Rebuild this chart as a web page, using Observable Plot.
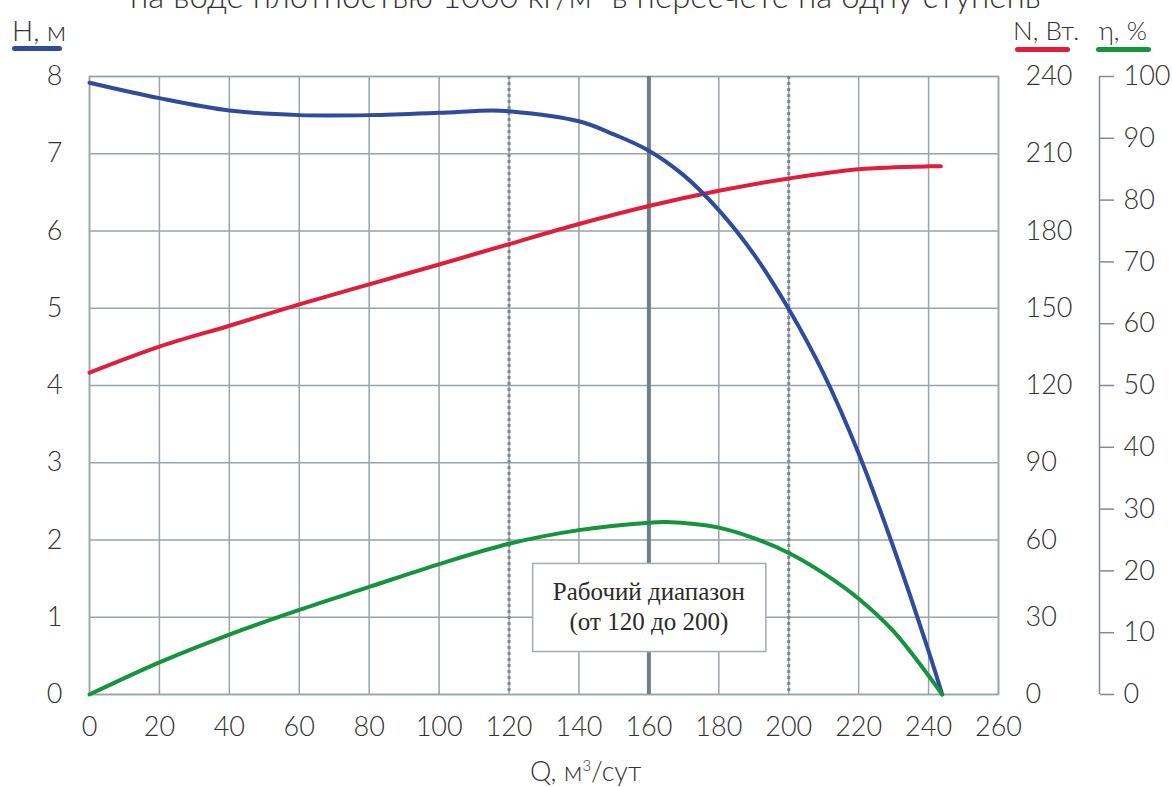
<!DOCTYPE html>
<html><head><meta charset="utf-8">
<script src="https://cdn.jsdelivr.net/npm/d3@7"></script>
<script src="https://cdn.jsdelivr.net/npm/@observablehq/plot@0.6"></script>
<style>
body{margin:0;background:#fff;}
#wrap{position:relative;width:1172px;height:787px;overflow:hidden;font-family:Lato,"Open Sans",sans-serif;}
#chart{position:absolute;left:0;top:0;}
.t{position:absolute;color:#333;font-weight:300;white-space:nowrap;line-height:1;}
.bar{position:absolute;height:5px;border-radius:3px;}
sup{font-size:55%;}
</style></head><body>
<div id="wrap">
  <div id="chart"></div>
  <div class="t" id="title" style="left:130px;top:-21px;font-size:33px;"></div>
  <div class="t" id="lh" style="left:12px;top:16px;font-size:28px;"></div>
  <div class="bar" style="left:12px;top:46px;width:50px;background:#2f4b9c"></div>
  <div class="t" id="ln" style="left:1013px;top:17px;font-size:26px;"></div>
  <div class="bar" style="left:1015px;top:47px;width:55px;background:#e01e3c"></div>
  <div class="t" id="le" style="left:1099px;top:17px;font-size:26px;"></div>
  <div class="bar" style="left:1096px;top:47px;width:55px;background:#14943c"></div>
  <div class="t" id="lq" style="left:530px;top:757px;font-size:27px;"></div>
</div>
<script>
// ---- data ----
const titleText = "на воде плотностью 1000 кг/м³ в пересчете на одну ступень";
const labelH = "H, м";
const labelN = "N, Вт.";
const labelEta = "η, %";
const labelQ = "Q, м<sup>3</sup>/сут";

const qTicks = [0,20,40,60,80,100,120,140,160,180,200,220,240,260];
const hTicks = [0,1,2,3,4,5,6,7,8];
const nTicks = [0,30,60,90,120,150,180,210,240];
const etaTicks = [0,10,20,30,40,50,60,70,80,90,100];

// Head H (m)
const hQ = [0,20,40,60,80,100,115,120,140,150,160,170,180,190,200,210,220,230,240,243.9];
const hV = [7.92,7.72,7.56,7.50,7.50,7.53,7.56,7.55,7.42,7.25,7.04,6.72,6.27,5.70,4.99,4.15,3.12,1.90,0.56,0];
// Power N (W)
const nQ = [0,20,40,60,80,100,120,140,160,180,200,220,240,243.5];
const nV = [125.0,135.1,143.2,151.5,159.3,167.0,174.9,182.7,189.7,195.6,200.4,204.0,205.1,205.1];
// Efficiency eta (%)
const eQ = [0,20,40,60,80,100,120,140,160,165,180,190,200,210,220,230,243.9];
const eV = [0,5.2,9.7,13.7,17.4,21.1,24.4,26.6,27.8,27.9,27.0,25.3,22.9,19.6,15.5,10.2,0];

// working range
const rangeDotted = [120,200];
const rangeCenter = [160];
const note = [{x1:126.9, x2:193.6, y1:0.55, y2:1.69, xc:160, l1:1.33, l2:0.94,
               t1:"Рабочий диапазон", t2:"(от 120 до 200)"}];

const nPerH = 30, ePerH = 12.5;

const hData = hQ.map((q,i)=>({q, v:hV[i]}));
const nData = nQ.map((q,i)=>({q, v:nV[i]/nPerH}));
const eData = eQ.map((q,i)=>({q, v:eV[i]/ePerH}));

const grid = "#98a3ab";
const plot = Plot.plot({
  width:1172, height:787,
  marginLeft:89, marginRight:174, marginTop:76, marginBottom:93,
  x:{domain:[0,260]},
  y:{domain:[0,8]},
  style:{fontFamily:"Lato, 'Open Sans', sans-serif", fontSize:"27px", fontWeight:300, color:"#333", background:"#fff"},
  marks:[
    Plot.gridX(qTicks, {stroke:grid, strokeOpacity:1, strokeWidth:1.5}),
    Plot.gridY(hTicks, {stroke:grid, strokeOpacity:1, strokeWidth:1.5}),
    Plot.frame({stroke:grid, strokeWidth:1.5}),
    Plot.ruleX(rangeDotted, {stroke:"#7b8892", strokeWidth:3, strokeDasharray:"3,3"}),
    Plot.ruleX(rangeCenter, {stroke:"#6f7f88", strokeWidth:4}),
    Plot.axisX(qTicks, {tickSize:0, tickPadding:22, label:null, tickFormat:d=>String(d)}),
    Plot.axisY(hTicks, {anchor:"left", tickSize:0, tickPadding:27, label:null, tickFormat:d=>String(d)}),
    Plot.axisY(nTicks.map(n=>n/nPerH), {anchor:"right", tickSize:0, tickPadding:27, label:null,
      tickFormat:d=>String(Math.round(d*nPerH))}),
    Plot.ruleX([260], {y1:0, y2:8, dx:101, stroke:"#7d8b95", strokeWidth:1.5}),
    Plot.axisY(etaTicks.map(e=>e/ePerH), {anchor:"right", tickSize:14, tickPadding:10, dx:101, label:null,
      stroke:"#7d8b95", strokeWidth:1.5, tickFormat:d=>String(Math.round(d*ePerH))}),
    Plot.line(nData, {x:"q", y:"v", curve:"catmull-rom", stroke:"#e01e3c", strokeWidth:4}),
    Plot.line(hData, {x:"q", y:"v", curve:"catmull-rom", stroke:"#2f4b9c", strokeWidth:4}),
    Plot.line(eData, {x:"q", y:"v", curve:"catmull-rom", stroke:"#14943c", strokeWidth:4}),
    Plot.rect(note, {x1:"x1", x2:"x2", y1:"y1", y2:"y2", fill:"#fff", stroke:"#a3abb1", strokeWidth:1.5}),
    Plot.text(note, {x:"xc", y:"l1", text:"t1", fontFamily:"'Liberation Serif', 'Times New Roman', serif", fontSize:25, fontWeight:400, fill:"#2a2a2a"}),
    Plot.text(note, {x:"xc", y:"l2", text:"t2", fontFamily:"'Liberation Serif', 'Times New Roman', serif", fontSize:25, fontWeight:400, fill:"#2a2a2a"})
  ]
});
document.getElementById("chart").appendChild(plot);
document.getElementById("title").textContent = titleText;
document.getElementById("lh").textContent = labelH;
document.getElementById("ln").textContent = labelN;
document.getElementById("le").textContent = labelEta;
document.getElementById("lq").innerHTML = labelQ;
</script>
</body></html>
